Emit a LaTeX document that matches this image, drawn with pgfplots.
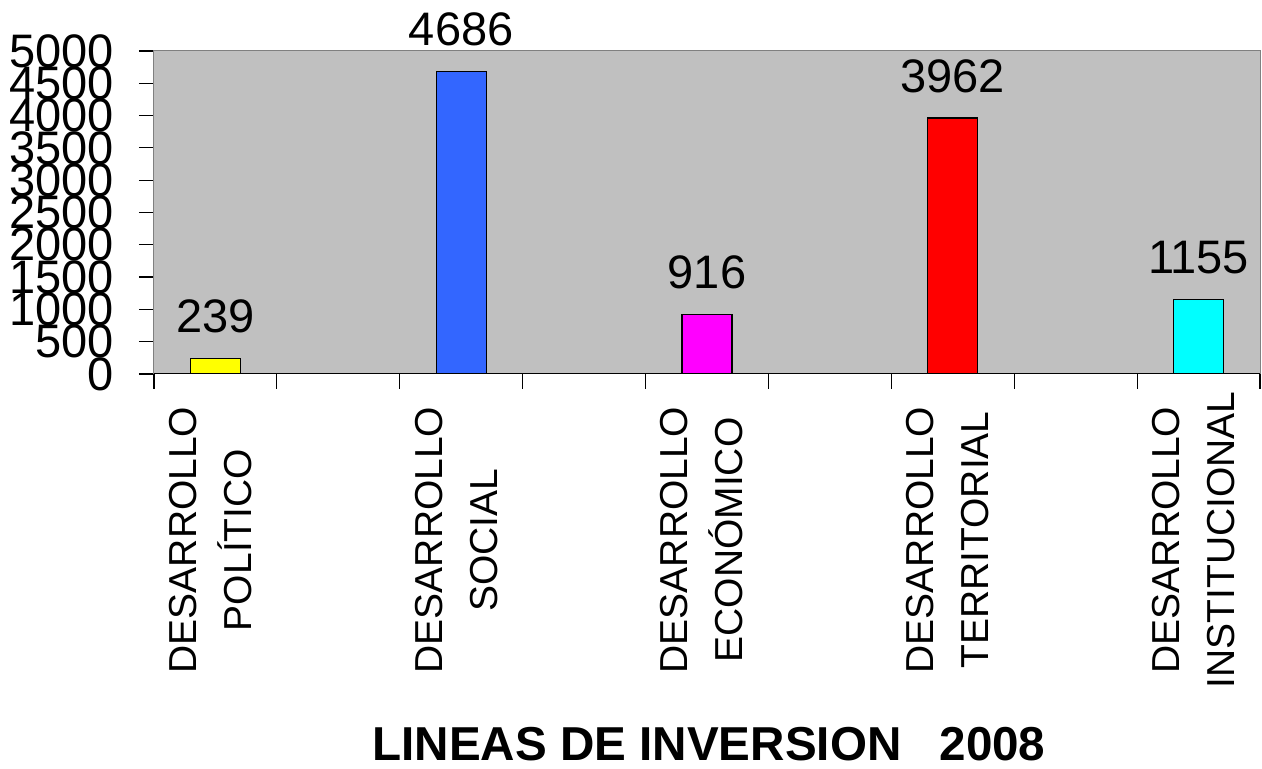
\documentclass[border=0pt]{standalone}
\usepackage{fontspec}
\setmainfont{Liberation Sans}
\usepackage{pgfplots}
\pgfplotsset{compat=1.18}
\definecolor{bgGray}{HTML}{C0C0C0}
\definecolor{frameGray}{HTML}{808080}
\definecolor{cYellow}{HTML}{FFFF00}
\definecolor{cBlue}{HTML}{3366FF}
\definecolor{cMagenta}{HTML}{FF00FF}
\definecolor{cRed}{HTML}{FF0000}
\definecolor{cCyan}{HTML}{00FFFF}
\begin{document}
\begin{tikzpicture}
\begin{axis}[
  scale only axis, width=553pt, height=161.5pt,
  xmin=0, xmax=9, ymin=0, ymax=5000,
  axis background/.style={fill=bgGray},
  axis line style={draw=frameGray, line width=0.5pt},
  ybar, bar width=25pt,
  xtick={0,...,9}, xticklabels={},
  ytick={0,500,...,5000},
  tick align=outside, tick pos=left,
  major tick length=7.5pt,
  tick style={black, line width=0.6pt},
  extra x ticks={0.5,2.5,4.5,6.5,8.5},
  extra x tick labels={{DESARROLLO\\POLÍTICO},{DESARROLLO\\SOCIAL},{DESARROLLO\\ECONÓMICO},{DESARROLLO\\TERRITORIAL},{DESARROLLO\\INSTITUCIONAL}},
  extra x tick style={major tick length=0pt,
    xticklabel style={yshift=-83pt, xshift=-2.5pt, rotate=90, anchor=center, align=center,
      font=\fontsize{19.5}{27.5}\selectfont}},
  /pgf/number format/1000 sep={},
  /pgf/number format/assume math mode=true,
  yticklabel style={font=\fontsize{23.5}{23.5}\selectfont, anchor=east, xshift=-9pt},
  nodes near coords,
  every node near coord/.append style={font=\fontsize{23.5}{23.5}\selectfont, anchor=base, yshift=13pt},
  xlabel={LINEAS DE INVERSION\hspace{0.8em}2008},
  xlabel style={font=\bfseries\fontsize{23.8}{26}\selectfont, inner sep=0pt, at={(axis description cs:0.5,0)}, anchor=base, yshift=-193pt, xshift=1pt},
]
\addplot[fill=cYellow, draw=black, line width=0.65pt, bar shift=0pt] coordinates {(0.5,239)};
\addplot[fill=cBlue, draw=black, line width=0.65pt, bar shift=0pt] coordinates {(2.5,4686)};
\addplot[fill=cMagenta, draw=black, line width=0.65pt, bar shift=0pt] coordinates {(4.5,916)};
\addplot[fill=cRed, draw=black, line width=0.65pt, bar shift=0pt] coordinates {(6.5,3962)};
\addplot[fill=cCyan, draw=black, line width=0.65pt, bar shift=0pt] coordinates {(8.5,1155)};
\draw[black, line width=0.7pt] (rel axis cs:0,0) -- (rel axis cs:1,0);
\coordinate (bl) at (rel axis cs:0,0);
\coordinate (tr) at (rel axis cs:1,1);
\end{axis}
\pgfresetboundingbox
\path[use as bounding box] ([shift={(-77pt,-197.5pt)}]bl) rectangle ([shift={(1pt,25.5pt)}]tr);
\end{tikzpicture}
\end{document}
